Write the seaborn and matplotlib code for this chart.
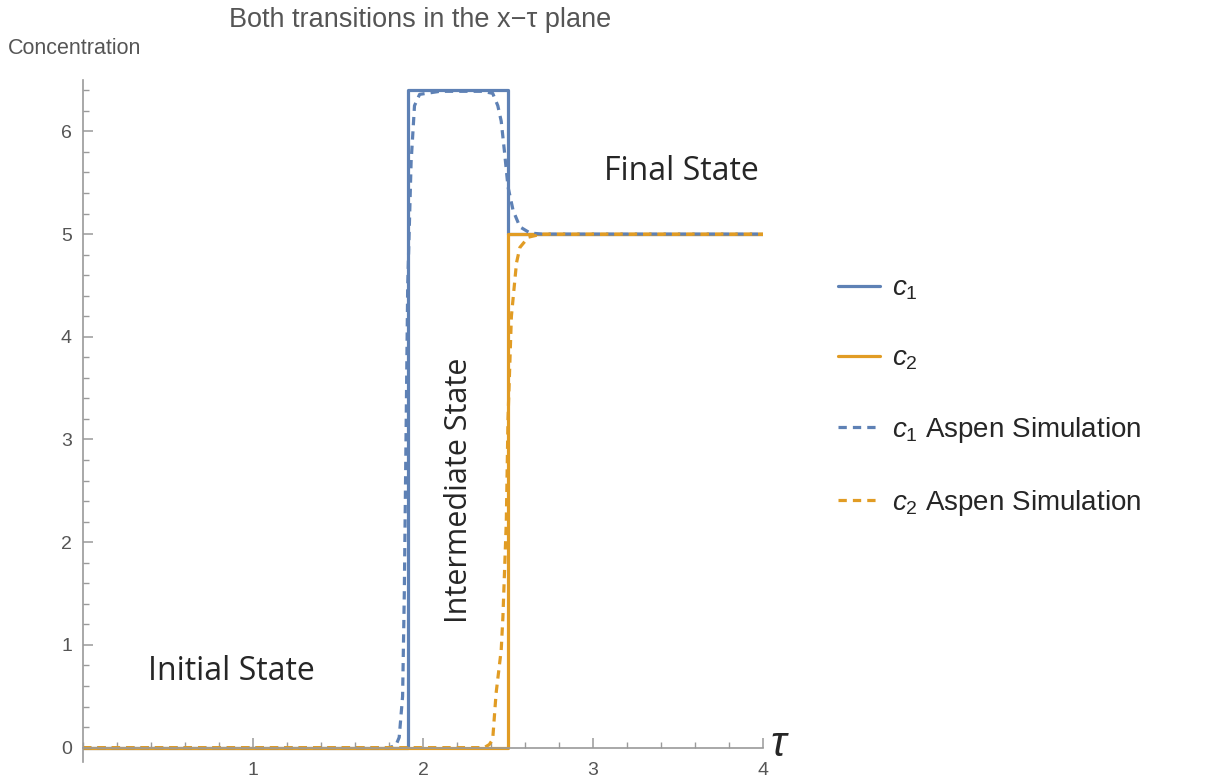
import matplotlib
matplotlib.use("Agg")
import matplotlib.pyplot as plt
from matplotlib.lines import Line2D
from matplotlib.ticker import MultipleLocator
import seaborn as sns

# Model solution (step profiles)
tau_c1 = [0.0, 1.91, 1.91, 2.50, 2.50, 4.0]
conc_c1 = [0.0, 0.0, 6.40, 6.40, 5.0, 5.0]
tau_c2 = [0.0, 2.50, 2.50, 4.0]
conc_c2 = [0.0, 0.0, 5.0, 5.0]

# Aspen simulation profiles
tau_c1_sim = [0.0, 1.80, 1.84, 1.86, 1.88, 1.89, 1.90, 1.91, 1.93, 1.95, 1.98, 2.10,
              2.35, 2.41, 2.44, 2.46, 2.48, 2.50, 2.53, 2.57, 2.63, 2.70, 4.0]
conc_c1_sim = [0.0, 0.0, 0.02, 0.10, 0.50, 1.50, 3.00, 4.50, 5.70, 6.25, 6.36, 6.39,
               6.39, 6.37, 6.25, 6.10, 5.79, 5.46, 5.23, 5.07, 5.01, 5.0, 5.0]
tau_c2_sim = [0.0, 2.36, 2.39, 2.41, 2.43, 2.46, 2.47, 2.49, 2.50, 2.52, 2.55, 2.57,
              2.62, 2.70, 4.0]
conc_c2_sim = [0.0, 0.0, 0.03, 0.08, 0.53, 0.95, 1.27, 2.20, 3.20, 4.20, 4.72, 4.87,
               4.97, 5.0, 5.0]

labels = [r"$c_1$", r"$c_2$", r"$c_1$ Aspen Simulation", r"$c_2$ Aspen Simulation"]
blue = "#5E81B5"
orange = "#E19C24"

sns.set_style("white")
plt.rcParams["font.family"] = ["Liberation Sans", "DejaVu Sans"]
plt.rcParams["mathtext.fontset"] = "custom"
plt.rcParams["mathtext.it"] = "Liberation Sans:italic"
plt.rcParams["mathtext.rm"] = "Liberation Sans"

fig = plt.figure(figsize=(12.22, 7.82), dpi=100)
ax = fig.add_axes([83 / 1222, 1 - 762 / 782, 680 / 1222, 682 / 782])

lw = 2.3
dash = (0, (2.6, 1.9))
sns.lineplot(x=tau_c1, y=conc_c1, ax=ax, color=blue, lw=lw, sort=False, estimator=None)
sns.lineplot(x=tau_c2, y=conc_c2, ax=ax, color=orange, lw=lw, sort=False, estimator=None)
sns.lineplot(x=tau_c1_sim, y=conc_c1_sim, ax=ax, color=blue, lw=lw, sort=False,
             estimator=None, linestyle=dash)
sns.lineplot(x=tau_c2_sim, y=conc_c2_sim, ax=ax, color=orange, lw=lw, sort=False,
             estimator=None, linestyle=dash)

ax.set_xlim(0, 4)
ax.set_ylim(-0.14, 6.5)

# Axes crossing at the origin, Mathematica style
axis_grey = "#9a9a9a"
for side in ["top", "right"]:
    ax.spines[side].set_visible(False)
ax.spines["bottom"].set_position(("data", 0))
for side in ["bottom", "left"]:
    ax.spines[side].set_color(axis_grey)
    ax.spines[side].set_linewidth(1.2)

ax.xaxis.set_major_locator(MultipleLocator(1))
ax.xaxis.set_minor_locator(MultipleLocator(0.2))
ax.yaxis.set_major_locator(MultipleLocator(1))
ax.yaxis.set_minor_locator(MultipleLocator(0.2))
ax.set_xticks([1, 2, 3, 4])
ax.tick_params(axis="both", which="both", bottom=True, left=True, direction="in",
               color=axis_grey)
ax.tick_params(axis="both", which="major", length=7, width=1.1,
               labelcolor="#555555", labelsize=14)
ax.tick_params(axis="both", which="minor", length=4, width=1.0)
ax.tick_params(axis="x", which="major", pad=10)
ax.tick_params(axis="y", which="major", pad=8)

# Annotations for the three states
state_font = ["Open Sans", "DejaVu Sans"]
ax.text(0.87, 0.74, "Initial State", fontsize=23, ha="center", va="center",
        family=state_font)
ax.text(2.21, 2.51, "Intermediate State", fontsize=22, ha="center", va="center",
        rotation=90, family=state_font)
ax.text(3.52, 5.61, "Final State", fontsize=23, ha="center", va="center",
        family=state_font)

# Axis labels and title
fig.text(780 / 1222, 1 - 745 / 782, r"$\tau$", fontsize=30, ha="center", va="center")
fig.text(8 / 1222, 1 - 48 / 782, "Concentration", fontsize=15.5, color="#555555",
         ha="left", va="center")
fig.text(420 / 1222, 1 - 20 / 782, "Both transitions in the x\u2212\u03c4 plane",
         fontsize=19.5, color="#555555", ha="center", va="center")

handles = [
    Line2D([], [], color=blue, lw=lw),
    Line2D([], [], color=orange, lw=lw),
    Line2D([], [], color=blue, lw=lw, linestyle=dash),
    Line2D([], [], color=orange, lw=lw, linestyle=dash),
]
fig.legend(handles, labels, loc="center left", bbox_to_anchor=(838 / 1222, 1 - 397 / 782),
           frameon=False, fontsize=20, handlelength=1.5, handletextpad=0.45,
           labelspacing=1.55, borderpad=0, borderaxespad=0)

fig.savefig("out.png", dpi=100)
